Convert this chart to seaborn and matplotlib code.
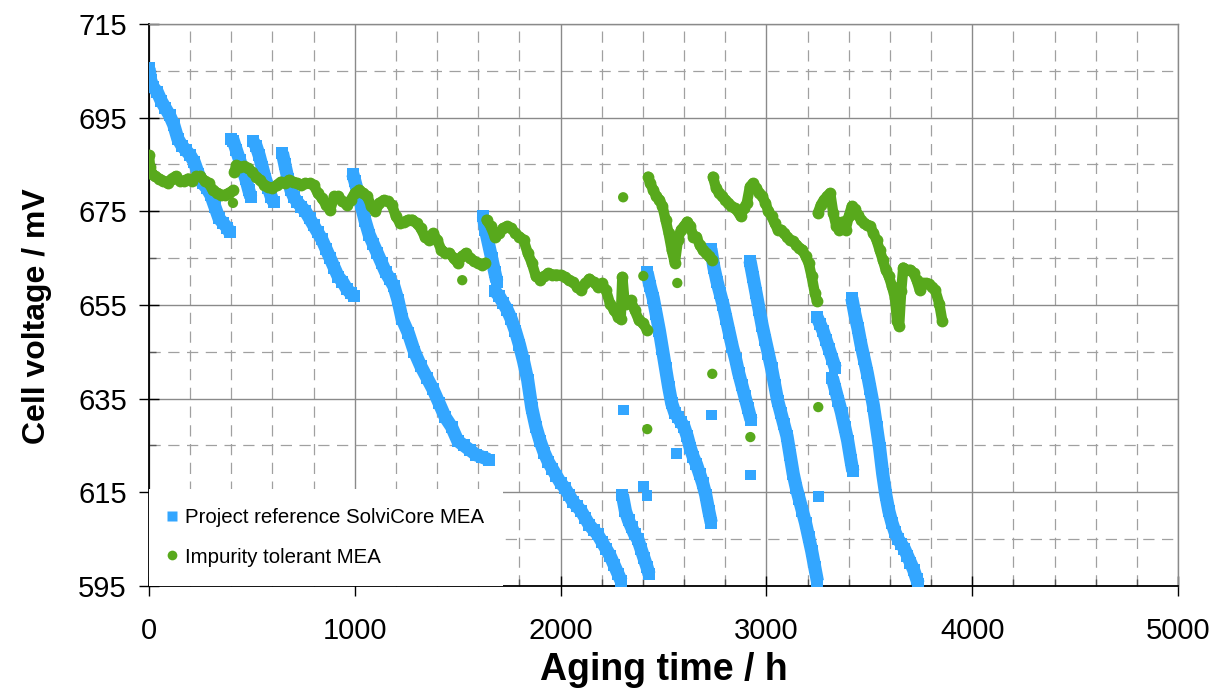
import numpy as np
import pandas as pd
import matplotlib
matplotlib.use("Agg")
import matplotlib.pyplot as plt
import seaborn as sns
from matplotlib.lines import Line2D
from matplotlib.ticker import MultipleLocator

# ---------------- data ----------------
# Project reference SolviCore MEA (blue), dense segments
ref_seg_a_t = [0, 8, 20, 40, 60, 80, 100, 120, 140, 160, 180, 200, 220, 240, 260, 280, 300, 320, 340, 360, 380, 392]
ref_seg_a_v = [705.5, 703, 701.5, 700.5, 698.5, 697, 695.5, 693.5, 690.5, 689, 688, 687, 685.5, 683, 681, 680, 678.5, 676, 673.5, 672.5, 671.5, 670.5]
ref_seg_b_t = [398, 410, 425, 440, 455, 470, 485, 495]
ref_seg_b_v = [690.5, 690, 688, 686, 684, 682, 679.5, 678]
ref_seg_c_t = [505, 520, 535, 550, 565, 580, 595, 605]
ref_seg_c_v = [690, 689, 687, 684.5, 682, 680, 678, 677]
ref_seg_d_t = [648, 660, 675, 690, 705, 720, 740, 760, 780, 800, 820, 840, 860, 880, 900, 920, 940, 960, 980, 995]
ref_seg_d_v = [687.5, 685, 682, 679.5, 678, 677, 676, 675, 673.5, 672, 670.5, 669, 667, 665, 663, 661, 660, 658.5, 657.5, 657]
ref_seg_e_t = [990, 1000, 1015, 1030, 1050, 1070, 1090, 1110, 1130, 1150, 1170, 1190, 1210, 1230, 1260, 1290, 1320, 1350, 1380, 1410, 1440, 1470, 1500, 1530, 1560, 1590, 1620, 1650]
ref_seg_e_v = [683, 681.5, 679, 676.5, 673, 670, 668, 666, 664, 662, 660.5, 659, 656, 652, 649, 645, 642, 639.5, 637, 634, 631, 629, 626, 625, 624, 623, 622.5, 622]
ref_seg_f_t = [1625, 1635, 1650, 1665, 1680, 1690]
ref_seg_f_v = [674, 671, 668, 665, 662, 660]
ref_seg_g_t = [1680, 1700, 1720, 1740, 1760, 1780, 1800, 1820, 1840, 1860, 1880, 1900, 1920, 1940, 1960, 1980, 2000, 2020, 2040, 2060, 2080, 2100, 2120, 2140, 2160, 2180, 2200, 2220, 2240, 2260, 2280, 2295]
ref_seg_g_v = [658, 657, 655.5, 654, 652, 649.5, 646.5, 643, 639, 633, 629, 626, 623.5, 621.5, 620, 618.5, 617, 616, 614.5, 613, 612, 611, 609.5, 608, 607, 606, 604.5, 603, 601.5, 599.5, 597.5, 596]
ref_seg_h_t = [2300, 2315, 2330, 2345, 2360, 2375, 2390, 2405, 2420, 2430]
ref_seg_h_v = [614.5, 611, 609, 607.5, 606, 605, 603, 601, 599, 597.5]
ref_seg_i_t = [2420, 2435, 2450, 2465, 2480, 2495, 2510, 2525, 2540, 2555, 2570, 2585, 2600, 2615, 2630, 2645, 2660, 2675, 2690, 2705, 2720, 2732]
ref_seg_i_v = [662, 659, 656.5, 653, 649.5, 645.5, 641.5, 637.5, 634, 632, 631, 630, 629, 627, 624.5, 622.5, 621, 619, 617, 614.5, 611, 608.5]
ref_seg_j_t = [2730, 2745, 2760, 2775, 2790, 2805, 2820, 2835, 2850, 2865, 2880, 2895, 2910, 2925]
ref_seg_j_v = [667, 663, 660, 657.5, 655, 652, 649, 646, 643.5, 640.5, 638, 635.5, 633, 630.5]
ref_seg_k_t = [2920, 2935, 2950, 2965, 2980, 2995, 3010, 3025, 3040, 3055, 3070, 3085, 3100, 3115, 3130, 3145, 3160, 3175, 3190, 3205, 3220, 3235, 3248]
ref_seg_k_v = [664.5, 661, 657.5, 654, 650.5, 647.5, 644.5, 641.5, 638, 634.5, 632, 629.5, 627, 623, 619, 616, 613.5, 611, 608.5, 605.5, 602.5, 599, 596]
ref_seg_l_t = [3245, 3260, 3275, 3290, 3305, 3320, 3335]
ref_seg_l_v = [652.5, 651, 649.5, 647.5, 645.5, 643.5, 641.5]
ref_seg_m_t = [3320, 3335, 3350, 3365, 3380, 3395, 3410, 3420]
ref_seg_m_v = [639.5, 637, 634.5, 632, 629, 626, 622, 619.5]
ref_seg_n_t = [3415, 3430, 3445, 3460, 3475, 3490, 3505, 3520, 3535, 3550, 3565, 3580, 3595, 3610, 3625, 3640, 3655, 3670, 3685, 3700, 3715, 3730, 3738]
ref_seg_n_v = [656.5, 653, 650, 646.5, 643.5, 640.5, 637, 633.5, 629, 624.5, 619, 614.5, 611, 608.5, 606.5, 605, 604, 603, 601.5, 600, 598.5, 596.5, 595.5]
# isolated blue points
ref_pts_t = [2306, 2403, 2420, 2565, 2735, 2922, 3254]
ref_pts_v = [632.6, 616.2, 614.4, 623.3, 631.5, 618.7, 614.1]

# Impurity tolerant MEA (green), dense segments
tol_seg_1_t = [0, 5, 15, 30, 50, 70, 90, 110, 130, 150, 170, 190, 210, 230, 250, 270, 290, 310, 330, 350, 370, 390, 410]
tol_seg_1_v = [687, 684.5, 683, 682.5, 682, 681.5, 681, 682, 682.5, 681.5, 681.5, 682, 681.5, 682.5, 682.5, 681.5, 681, 679.5, 679, 678.5, 678.5, 679, 679.5]
tol_seg_2_t = [415, 425, 440, 460, 480, 500, 520, 540, 560, 580, 600, 620, 640, 660, 680, 700, 720, 740, 760, 780, 800, 820, 840, 860, 880, 900, 920, 940, 960, 980, 1000, 1020, 1040, 1060, 1080, 1100, 1120, 1140, 1160, 1180, 1200, 1220, 1240, 1260, 1280, 1300, 1320, 1340, 1360, 1380, 1400, 1420, 1440, 1460, 1480, 1500, 1520, 1540, 1560, 1580, 1600, 1620, 1635]
tol_seg_2_v = [683.5, 684.8, 684.5, 684.6, 684.2, 683.5, 682.4, 681.7, 680.6, 680.2, 679.9, 680.6, 681.3, 681, 681.7, 681.3, 681, 680.6, 681, 681, 680.6, 678.9, 677.8, 676.4, 675.3, 678.2, 678.2, 677.1, 676.4, 677.4, 678.9, 679.6, 678.9, 678.2, 676.1, 675, 676.8, 677.4, 677.1, 676.4, 673.9, 672.5, 672.8, 673.2, 673.2, 672.5, 671.4, 669.6, 668.9, 670.3, 668.9, 666.8, 666.1, 666.1, 665, 664, 665.4, 666.1, 665, 664.3, 664, 663.6, 664]
tol_seg_3_t = [1640, 1660, 1680, 1700, 1720, 1740, 1760, 1780, 1800, 1820, 1840, 1860, 1880, 1900, 1920, 1940, 1960, 1980, 2000, 2020, 2040, 2060, 2080, 2100, 2120, 2140, 2160, 2180, 2200, 2220, 2240, 2260, 2280, 2292, 2300, 2310, 2320, 2340, 2360, 2380, 2400, 2420]
tol_seg_3_v = [673.2, 671.8, 669.6, 670.3, 671.4, 671.8, 671.4, 670.3, 669.6, 668.9, 666.1, 664, 661.1, 660.4, 661.1, 661.8, 661.5, 661.5, 661.4, 661, 660.3, 659.9, 658.9, 658.2, 659.6, 660.6, 659.9, 658.9, 659.6, 658.2, 655.3, 653.9, 652.5, 652, 661, 656, 655.3, 656, 653.9, 651.8, 651.1, 649.7]
tol_seg_4_t = [2425, 2435, 2450, 2465, 2480, 2495, 2510, 2525, 2540, 2555, 2570, 2585, 2600, 2615, 2630, 2645, 2660, 2675, 2690, 2705, 2720, 2735]
tol_seg_4_v = [682.4, 681, 679.6, 678.2, 677.5, 676.1, 673.2, 670.3, 666.8, 664, 668.9, 671.1, 671.8, 672.8, 671.8, 669.6, 669.6, 667.9, 666.8, 666.1, 665.4, 664.7]
tol_seg_5_t = [2740, 2755, 2770, 2785, 2800, 2815, 2830, 2845, 2860, 2875, 2890, 2905, 2920, 2935, 2950, 2965, 2980, 2995, 3010, 3025, 3040, 3055, 3070, 3085, 3100, 3115, 3130, 3145, 3160, 3175, 3190, 3205, 3220, 3235, 3245]
tol_seg_5_v = [682.4, 680, 678.9, 678.2, 677.5, 676.8, 676.1, 675.7, 675, 673.9, 675.7, 676.8, 680.3, 681, 680, 678.9, 678.2, 676.8, 675, 673.9, 672.5, 671.1, 671.1, 670.3, 669.6, 668.9, 668.6, 667.9, 667.2, 666.8, 665.4, 664, 661.1, 657.6, 655.9]
tol_seg_6_t = [3250, 3265, 3280, 3295, 3310, 3325, 3340, 3355, 3370, 3385, 3400, 3415, 3430, 3445, 3460, 3475, 3490, 3505, 3520, 3535, 3550, 3565, 3580, 3595, 3610, 3625, 3635, 3645, 3655, 3665, 3680, 3700, 3715, 3730, 3745, 3760, 3775, 3790, 3805, 3820, 3840, 3855]
tol_seg_6_v = [674.6, 676.4, 677.5, 678.2, 678.9, 674.6, 671.8, 671.1, 672.8, 671.1, 673.9, 676.1, 675.4, 674.3, 673.2, 672.5, 672.1, 671.8, 670.3, 668.9, 666.8, 664.7, 662.5, 661.1, 659, 656.5, 651.5, 650.5, 658, 663, 662.5, 662.5, 661.8, 660.3, 658.2, 659.6, 659.6, 659.5, 658.8, 658.2, 655.3, 651.5]
# isolated green points
tol_pts_t = [408, 1522, 2304, 2402, 2421, 2567, 2737, 2922, 3252]
tol_pts_v = [676.8, 660.3, 678, 661.2, 628.5, 659.7, 640.3, 626.8, 633.2]

x_ticks = [0, 1000, 2000, 3000, 4000, 5000]
y_ticks = [595, 615, 635, 655, 675, 695, 715]
label_ref = "Project reference SolviCore MEA"
label_tol = "Impurity tolerant MEA"
x_label = "Aging time / h"
y_label = "Cell voltage / mV"

# ---------------- build tables ----------------
ref_segments = [(ref_seg_a_t, ref_seg_a_v), (ref_seg_b_t, ref_seg_b_v), (ref_seg_c_t, ref_seg_c_v),
                (ref_seg_d_t, ref_seg_d_v), (ref_seg_e_t, ref_seg_e_v), (ref_seg_f_t, ref_seg_f_v),
                (ref_seg_g_t, ref_seg_g_v), (ref_seg_h_t, ref_seg_h_v), (ref_seg_i_t, ref_seg_i_v),
                (ref_seg_j_t, ref_seg_j_v), (ref_seg_k_t, ref_seg_k_v), (ref_seg_l_t, ref_seg_l_v),
                (ref_seg_m_t, ref_seg_m_v), (ref_seg_n_t, ref_seg_n_v)]
tol_segments = [(tol_seg_1_t, tol_seg_1_v), (tol_seg_2_t, tol_seg_2_v), (tol_seg_3_t, tol_seg_3_v),
                (tol_seg_4_t, tol_seg_4_v), (tol_seg_5_t, tol_seg_5_v), (tol_seg_6_t, tol_seg_6_v)]


def to_frame(segments):
    rows = []
    for i, (t, v) in enumerate(segments):
        for a, b in zip(t, v):
            rows.append((i, a, b))
    return pd.DataFrame(rows, columns=["seg", "t", "v"])


df_ref = to_frame(ref_segments)
df_tol = to_frame(tol_segments)

BLUE = "#33a6ff"
GREEN = "#58a91c"

# ---------------- figure ----------------
sns.set_theme(style="white")
plt.rcParams["font.family"] = ["Liberation Sans", "DejaVu Sans"]

fig = plt.figure(figsize=(12.18, 6.92), dpi=100)
L, R, T, B = 149, 1178, 24, 586
ax = fig.add_axes([L / 1218, 1 - B / 692, (R - L) / 1218, (B - T) / 692])
ax.set_axisbelow(True)

sns.lineplot(data=df_ref, x="t", y="v", units="seg", estimator=None, sort=False,
             color=BLUE, lw=9.5, marker="s", markersize=8.5, markeredgewidth=0,
             solid_joinstyle="miter", solid_capstyle="butt",
             ax=ax, legend=False, zorder=3)
sns.scatterplot(x=ref_pts_t, y=ref_pts_v, marker="s", s=60, color=BLUE,
                edgecolor="none", linewidth=0, ax=ax, zorder=3)
sns.lineplot(data=df_tol, x="t", y="v", units="seg", estimator=None, sort=False,
             color=GREEN, lw=7.5, marker="o", markersize=8.5, markeredgewidth=0,
             solid_joinstyle="round", solid_capstyle="round", ax=ax, legend=False, zorder=4)
sns.scatterplot(x=tol_pts_t, y=tol_pts_v, marker="o", s=55, color=GREEN,
                edgecolor="none", linewidth=0, ax=ax, zorder=4)

ax.set_xlim(0, 5000)
ax.set_ylim(595, 715)
ax.set_xticks(x_ticks)
ax.set_yticks(y_ticks)
ax.xaxis.set_minor_locator(MultipleLocator(200))
ax.set_yticks([y + 10 for y in y_ticks[:-1]], minor=True)

ax.grid(which="major", color="#8a8a8a", lw=1.0, ls="-")
ax.grid(which="minor", color="#a0a0a0", lw=0.9, ls=(0, (9, 6)))

for s in ["left", "bottom"]:
    ax.spines[s].set_color("black")
    ax.spines[s].set_linewidth(1.3)
for s in ["top", "right"]:
    ax.spines[s].set_color("#8a8a8a")
    ax.spines[s].set_linewidth(1.0)

ax.tick_params(which="major", direction="inout", length=14, width=1.0, color="black",
               labelsize=21, labelcolor="black")
ax.tick_params(axis="x", which="major", pad=15)
ax.tick_params(axis="y", which="major", pad=9)
ax.tick_params(which="minor", direction="in", length=5, width=1.0, color="#555555")
ax.tick_params(left=True, bottom=True, top=False, right=False)
ax.tick_params(which="minor", left=True, bottom=True, top=False, right=False)

ax.set_xlabel(x_label, fontsize=27, fontweight="bold", color="black")
ax.set_ylabel(y_label, fontsize=23, fontweight="bold", color="black")
ax.xaxis.set_label_coords(0.5, -0.117)
ax.yaxis.set_label_coords(-0.0945, 0.48)

handles = [Line2D([], [], ls="none", marker="s", markersize=7, color=BLUE, mec="none"),
           Line2D([], [], ls="none", marker="o", markersize=7, color=GREEN, mec="none")]
leg = ax.legend(handles, [label_ref, label_tol], loc="lower left", bbox_to_anchor=(0, 0),
                borderaxespad=0.0, frameon=True, facecolor="white", edgecolor="none",
                framealpha=1.0, fancybox=False, fontsize=14.7, handlelength=0.4,
                handletextpad=0.4, labelspacing=1.0, borderpad=0.95, labelcolor="black")
leg.set_zorder(5)

fig.savefig("out.png", dpi=100)
